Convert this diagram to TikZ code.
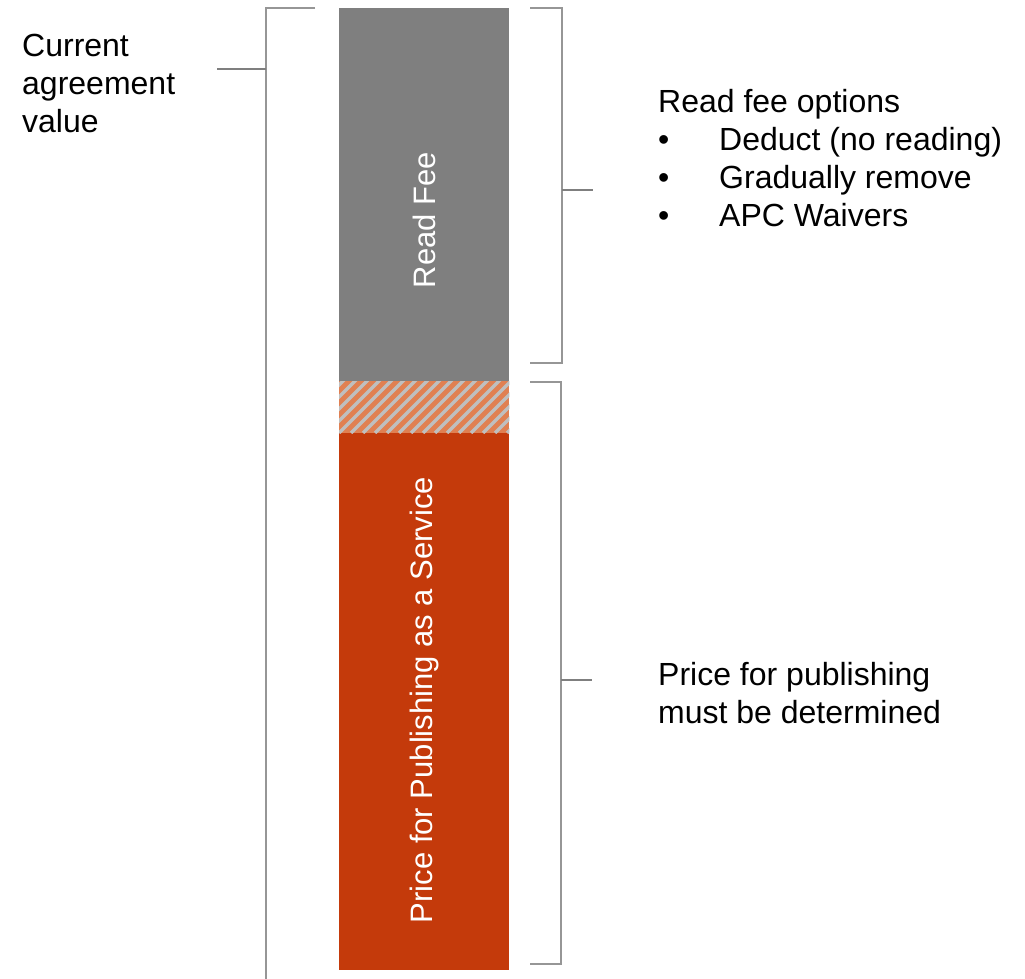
\documentclass[tikz,border=0pt]{standalone}
\usepackage{fontspec}
\setmainfont{Liberation Sans}
\usepackage{tikz}

\definecolor{feegray}{RGB}{127,127,127}
\definecolor{pubred}{RGB}{196,58,11}
\definecolor{hatchred}{RGB}{224,128,82}
\definecolor{hatchgray}{RGB}{191,191,191}
\definecolor{bracegray}{RGB}{150,150,150}

\begin{document}
\begin{tikzpicture}[x=1pt,y=-1pt,
    every node/.style={font=\fontsize{32}{38}\selectfont, inner sep=0pt}]

    \tikzstyle{bar}=[draw=none, minimum width=170pt, anchor=north west]
    \tikzstyle{barlabel}=[rotate=90, text=white, font=\fontsize{31}{37}\selectfont]
    \tikzstyle{brace}=[draw=bracegray, line width=1.5pt]
    \tikzstyle{tick}=[draw=feegray, line width=1.5pt]
    \tikzstyle{stripe}=[draw=hatchgray, line width=3.2pt]

    \useasboundingbox (0,0) rectangle (1025,979);

    % the column
    \node[bar, fill=feegray,   minimum height=373pt] (readfee) at (339,8)   {};
    \node[bar, fill=hatchred,  minimum height=52pt]  (hatch)   at (339,381) {};
    \node[bar, fill=pubred,    minimum height=537pt] (publish) at (339,433) {};

    \begin{scope}
      \clip (hatch.south west) rectangle (hatch.north east);
      \foreach \i in {-60,-48,...,180}
        \draw[stripe] (339+\i,433) -- ++(60,-60);
    \end{scope}

    \node[barlabel] (readlabel) at (424,220) {Read Fee};
    \node[barlabel] (publabel)  at (424,700) {Price for Publishing as a Service};

    % brackets
    \coordinate (ltop)  at (315,8);
    \coordinate (lmid)  at (266,69);
    \coordinate (lbot)  at (266,979);
    \coordinate (r1top) at (530,8);
    \coordinate (r1mid) at (562,190);
    \coordinate (r1bot) at (530,363);
    \coordinate (r2top) at (530,382);
    \coordinate (r2mid) at (561,680);
    \coordinate (r2bot) at (530,964);

    \draw[brace] (ltop) -| (lbot);
    \draw[tick]  (lmid) -- ++(-49,0);
    \draw[brace] (r1top) -| (r1mid) |- (r1bot);
    \draw[tick]  (r1mid) -- ++(31,0);
    \draw[brace] (r2top) -| (r2mid) |- (r2bot);
    \draw[tick]  (r2mid) -- ++(31,0);

    % texts (base = baseline of the last line)
    \node[anchor=base west, align=left] (current) at (22,132)
        {Current\\agreement\\value};
    \node[anchor=base west, align=left] (options) at (658,226)
        {Read fee options\\
         \makebox[61pt][l]{•}Deduct (no reading)\\
         \makebox[61pt][l]{•}Gradually remove\\
         \makebox[61pt][l]{•}APC Waivers};
    \node[anchor=base west, align=left] (pricing) at (658,723)
        {Price for publishing\\must be determined};

\end{tikzpicture}
\end{document}
